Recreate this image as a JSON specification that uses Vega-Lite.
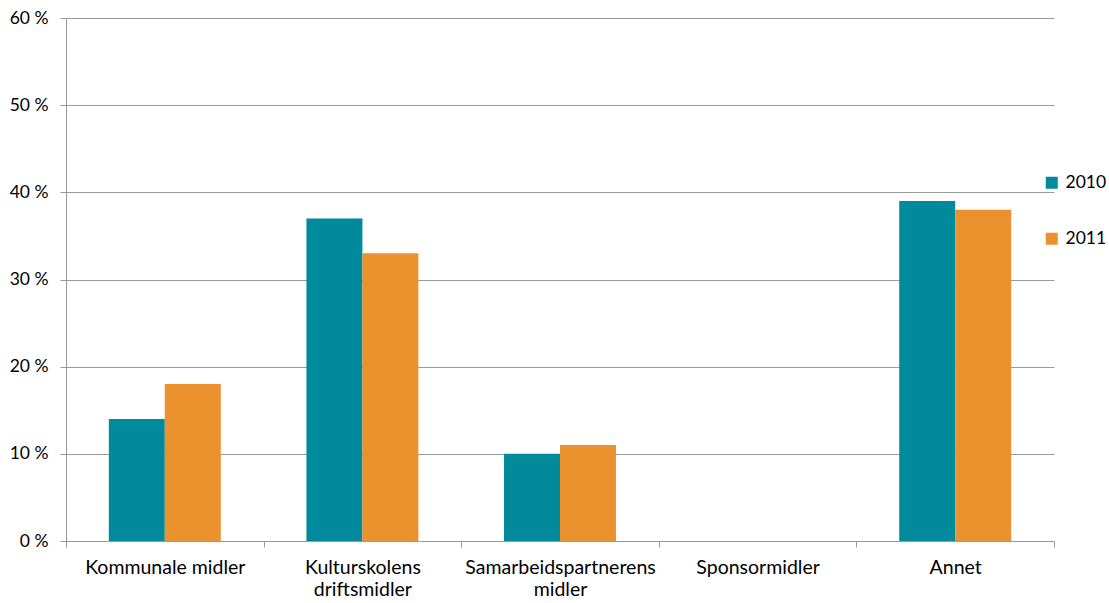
{
  "$schema": "https://vega.github.io/schema/vega-lite/v6.json",
  "width": 988,
  "height": 523,
  "autosize": {"type": "none"},
  "padding": {"left": 66, "top": 18, "right": 55, "bottom": 62},
  "background": "white",
  "config": {
    "font": "Lato",
    "view": {"stroke": null}
  },
  "data": {
    "values": [
      {"kategori": "Kommunale midler", "år": "2010", "andel": 14},
      {"kategori": "Kommunale midler", "år": "2011", "andel": 18},
      {"kategori": "Kulturskolens driftsmidler", "år": "2010", "andel": 37},
      {"kategori": "Kulturskolens driftsmidler", "år": "2011", "andel": 33},
      {"kategori": "Samarbeidspartnerens midler", "år": "2010", "andel": 10},
      {"kategori": "Samarbeidspartnerens midler", "år": "2011", "andel": 11},
      {"kategori": "Sponsormidler", "år": "2010", "andel": 0},
      {"kategori": "Sponsormidler", "år": "2011", "andel": 0},
      {"kategori": "Annet", "år": "2010", "andel": 39},
      {"kategori": "Annet", "år": "2011", "andel": 38}
    ]
  },
  "mark": {"type": "bar"},
  "encoding": {
    "x": {
      "field": "kategori",
      "type": "nominal",
      "sort": null,
      "title": null,
      "scale": {"paddingInner": 0, "paddingOuter": 0},
      "axis": {
        "tickBand": "extent",
        "labelAngle": 0,
        "labelFontSize": 19.5,
        "labelColor": "#000000",
        "labelPadding": 11,
        "labelLineHeight": 22,
        "labelLimit": 400,
        "labelOverlap": false,
        "domainColor": "#999999",
        "tickColor": "#999999",
        "tickSize": 6,
        "labelExpr": "datum.label == 'Kulturskolens driftsmidler' ? ['Kulturskolens', 'driftsmidler'] : datum.label == 'Samarbeidspartnerens midler' ? ['Samarbeidspartnerens', 'midler'] : datum.label"
      }
    },
    "xOffset": {
      "field": "år",
      "type": "nominal",
      "scale": {"paddingInner": 0, "paddingOuter": 0.765}
    },
    "y": {
      "field": "andel",
      "type": "quantitative",
      "title": null,
      "scale": {"domain": [0, 60], "nice": false},
      "axis": {
        "values": [0, 10, 20, 30, 40, 50, 60],
        "labelExpr": "datum.value + ' %'",
        "labelFontSize": 17.5,
        "labelColor": "#000000",
        "labelPadding": 12,
        "grid": true,
        "gridColor": "#999999",
        "domainColor": "#999999",
        "tickColor": "#999999",
        "tickSize": 6
      }
    },
    "color": {
      "field": "år",
      "type": "nominal",
      "title": null,
      "scale": {"domain": ["2010", "2011"], "range": ["#008A9B", "#EB922E"]},
      "legend": {
        "orient": "none",
        "legendX": 977,
        "legendY": 156,
        "symbolType": "square",
        "symbolSize": 144,
        "symbolStrokeWidth": 0,
        "labelFontSize": 17.5,
        "labelColor": "#000000",
        "rowPadding": 37,
        "labelOffset": 5
      }
    }
  }
}
